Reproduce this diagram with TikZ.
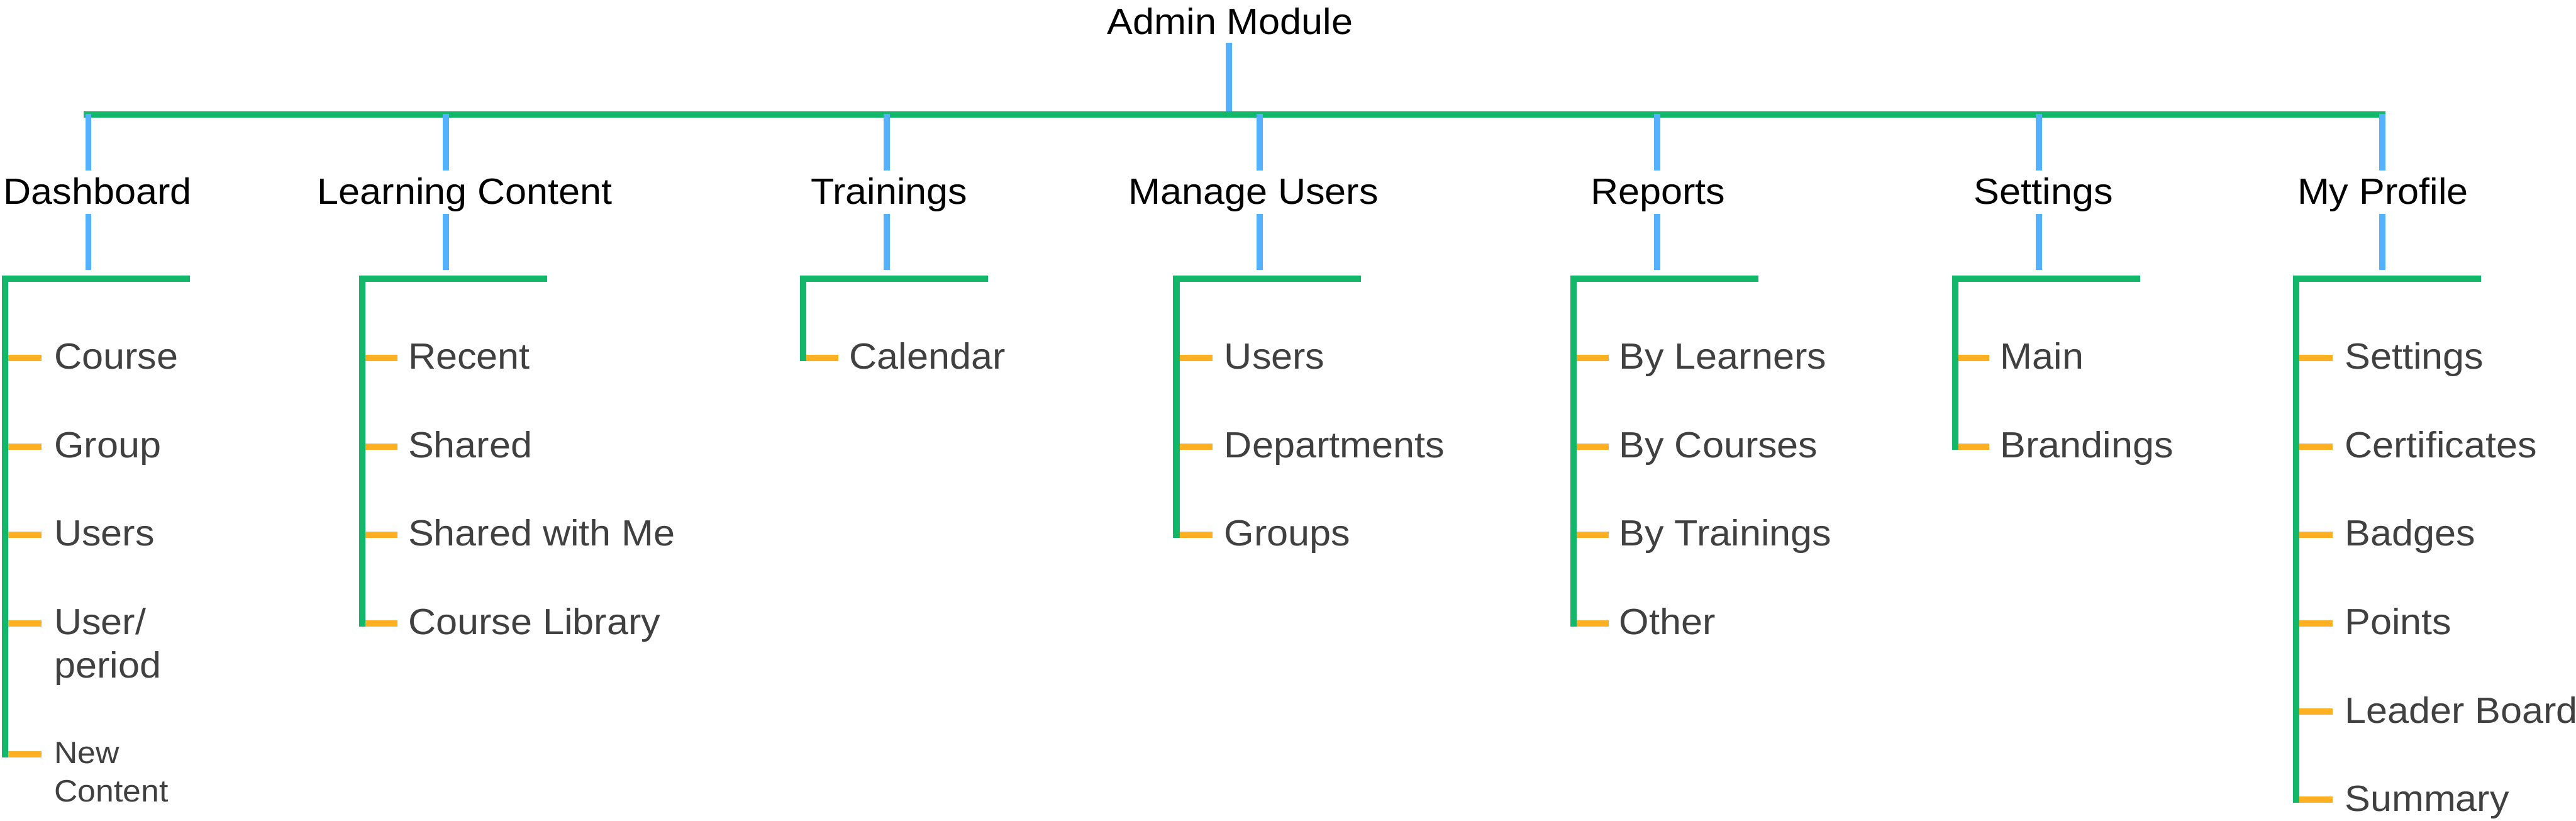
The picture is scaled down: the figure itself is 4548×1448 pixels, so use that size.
\documentclass[tikz,border=0pt]{standalone}
\usepackage{fontspec}
\setmainfont{Liberation Sans}[FakeStretch=1.055]
\definecolor{cgreen}{HTML}{12B76A}
\definecolor{cblue}{HTML}{53B1FD}
\definecolor{corange}{HTML}{FDB022}
\definecolor{cgray}{HTML}{404040}
\tikzset{
  gbar/.style={draw=cgreen, line width=0.115cm},
  bbar/.style={draw=cblue, line width=0.11cm},
  obar/.style={draw=corange, line width=0.115cm},
  head/.style={font=\fontsize{18.3pt}{21.6pt}\selectfont, text=black, inner sep=0pt, anchor=base},
  item/.style={font=\fontsize{18.3pt}{21.6pt}\selectfont, text=cgray, inner sep=0pt, anchor=base west},
  smallitem/.style={font=\fontsize{15.5pt}{19.3pt}\selectfont, text=cgray, inner sep=0pt, anchor=base west}
}
\begin{document}
\begin{tikzpicture}[x=0.01cm, y=-0.01cm]
\useasboundingbox (0,0) rectangle (4548,1448);

% root
\node[head] (admin) at (2172,60) {Admin Module};
\coordinate (rootTop) at (2170,76);
\coordinate (rootBot) at (2170,196.5);
\draw[bbar] (rootTop) -- (rootBot);
\coordinate (barL) at (148,202);
\coordinate (barR) at (4211,202);
\draw[gbar] (barL) -- (barR);

% headings
\node[head] (h1) at (172,360) {Dashboard};
\node[head] (h2) at (821,360) {Learning Content};
\node[head] (h3) at (1570,360) {Trainings};
\node[head] (h4) at (2213,360) {Manage Users};
\node[head] (h5) at (2927,360) {Reports};
\node[head] (h6) at (3608,360) {Settings};
\node[head] (h7) at (4207,360) {My Profile};

% blue stubs
\foreach \x in {156,787.5,1566,2224,2926,3600,4206}{
  \draw[bbar] (\x,201) -- (\x,301);
  \draw[bbar] (\x,377) -- (\x,476);
}

% ---------- Dashboard (L=3)
\draw[gbar] (8.75,486) -- (8.75,1337.25);
\draw[gbar] (3,491.75) -- (335,491.75);
\foreach \y in {631.5,788,943.5,1100,1331.5}{\draw[obar] (14.5,\y) -- (73,\y);}
\node[item] (d1) at (95,651.5) {Course};
\node[item] (d2) at (95,808) {Group};
\node[item] (d3) at (95,963.5) {Users};
\node[item] (d4) at (95,1120) {\begin{tabular}[t]{@{}l@{}}User/\\period\end{tabular}};
\node[smallitem] (d5) at (95,1347.5) {\begin{tabular}[t]{@{}l@{}}New\\Content\end{tabular}};

% ---------- Learning Content (L=634)
\draw[gbar] (639.75,486) -- (639.75,1105.75);
\draw[gbar] (634,491.75) -- (966,491.75);
\foreach \y in {631.5,788,943.5,1100}{\draw[obar] (645.5,\y) -- (702,\y);}
\node[item] (l1) at (720,651.5) {Recent};
\node[item] (l2) at (720,808) {Shared};
\node[item] (l3) at (720,963.5) {Shared with Me};
\node[item] (l4) at (720,1120) {Course Library};

% ---------- Trainings (L=1412)
\draw[gbar] (1417.75,486) -- (1417.75,637.25);
\draw[gbar] (1412,491.75) -- (1744,491.75);
\draw[obar] (1423.5,631.5) -- (1480,631.5);
\node[item] (t1) at (1499,651.5) {Calendar};

% ---------- Manage Users (L=2071)
\draw[gbar] (2076.75,486) -- (2076.75,949.25);
\draw[gbar] (2071,491.75) -- (2403,491.75);
\foreach \y in {631.5,788,943.5}{\draw[obar] (2082.5,\y) -- (2141,\y);}
\node[item] (m1) at (2161,651.5) {Users};
\node[item] (m2) at (2161,808) {Departments};
\node[item] (m3) at (2161,963.5) {Groups};

% ---------- Reports (L=2772)
\draw[gbar] (2777.75,486) -- (2777.75,1105.75);
\draw[gbar] (2772,491.75) -- (3104,491.75);
\foreach \y in {631.5,788,943.5,1100}{\draw[obar] (2783.5,\y) -- (2840,\y);}
\node[item] (r1) at (2858,651.5) {By Learners};
\node[item] (r2) at (2858,808) {By Courses};
\node[item] (r3) at (2858,963.5) {By Trainings};
\node[item] (r4) at (2858,1120) {Other};

% ---------- Settings (L=3446)
\draw[gbar] (3451.75,486) -- (3451.75,793.75);
\draw[gbar] (3446,491.75) -- (3778,491.75);
\foreach \y in {631.5,788}{\draw[obar] (3457.5,\y) -- (3512,\y);}
\node[item] (s1) at (3531,651.5) {Main};
\node[item] (s2) at (3531,808) {Brandings};

% ---------- My Profile (L=4048)
\draw[gbar] (4053.75,486) -- (4053.75,1417.25);
\draw[gbar] (4048,491.75) -- (4380,491.75);
\foreach \y in {631.5,788,943.5,1100,1256,1411.5}{\draw[obar] (4059.5,\y) -- (4118,\y);}
\node[item] (p1) at (4139,651.5) {Settings};
\node[item] (p2) at (4139,808) {Certificates};
\node[item] (p3) at (4139,963.5) {Badges};
\node[item] (p4) at (4139,1120) {Points};
\node[item] (p5) at (4139,1276) {Leader Board};
\node[item] (p6) at (4139,1431.5) {Summary};
\end{tikzpicture}
\end{document}
